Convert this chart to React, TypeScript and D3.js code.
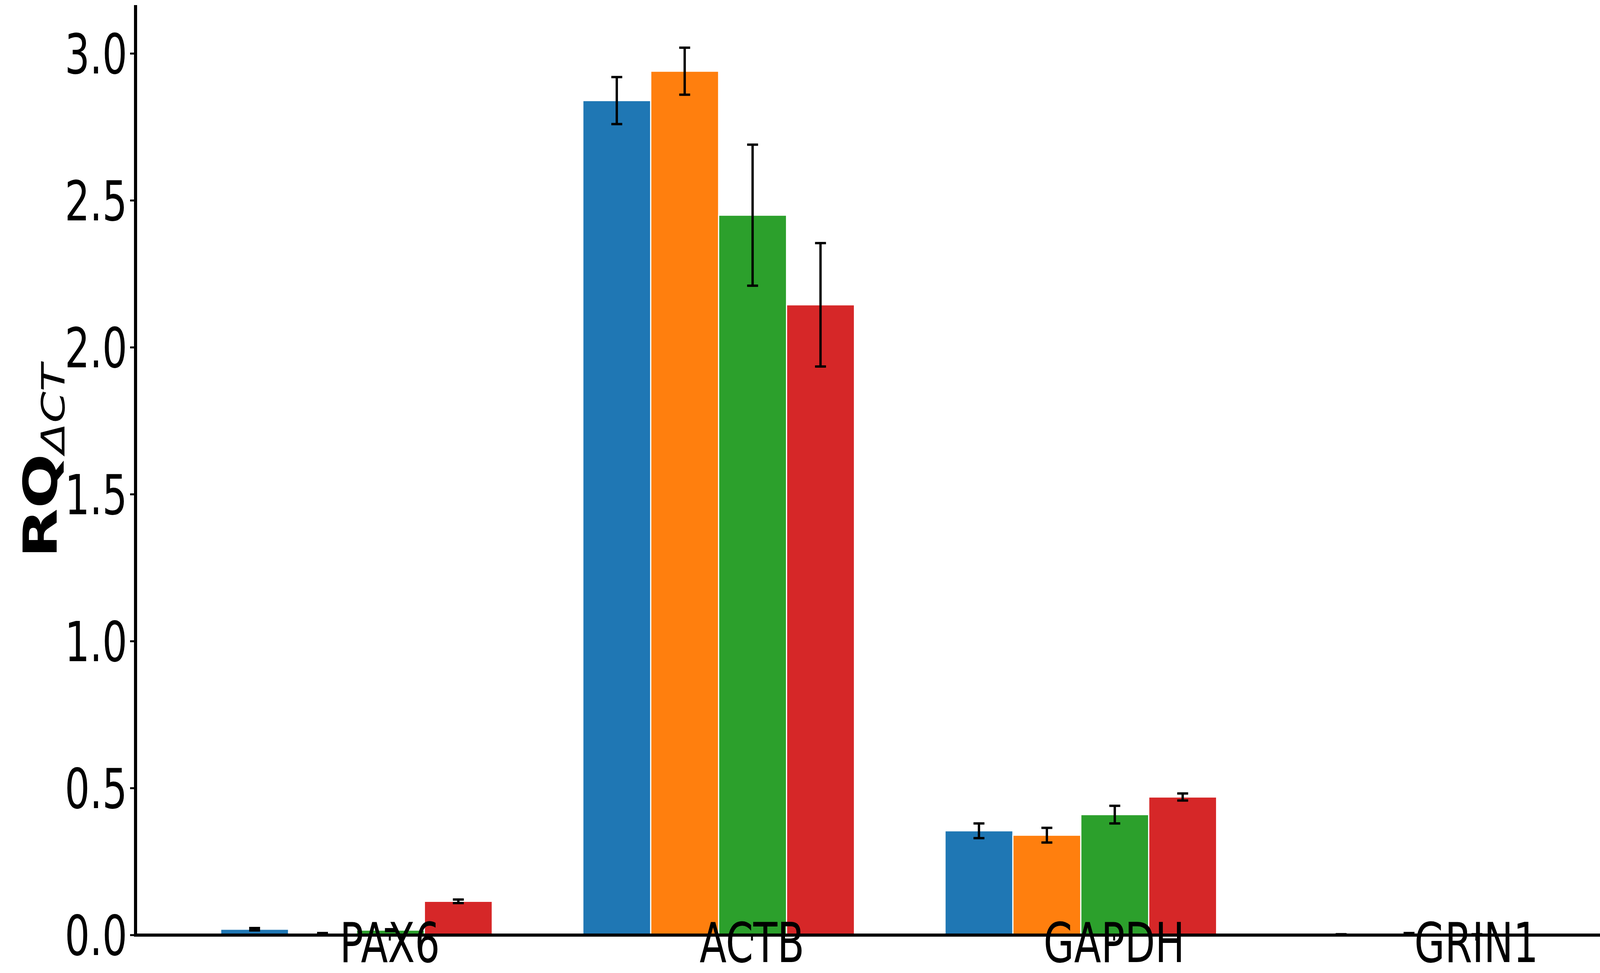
import * as React from 'react';
import * as d3 from 'd3';

const genes = ['PAX6', 'ACTB', 'GAPDH', 'GRIN1', 'CAMK2A'];
const series = ['AiW002-2-D0', 'AiW002-2-D7', 'KYOU-D7', 'KYOU-D0'];
const colors = ['#1f77b4', '#ff7f0e', '#2ca02c', '#d62728'];
// values[series][gene]
const values = [
  [0.02, 2.84, 0.355, 0.001, 0.01],
  [0.003, 2.94, 0.34, 0.004, 0.015],
  [0.017, 2.45, 0.41, 0.001, 0.009],
  [0.115, 2.145, 0.47, 0.0, 0.001],
];
const errors = [
  [0.004, 0.08, 0.025, 0.002, 0.003],
  [0.004, 0.08, 0.025, 0.003, 0.003],
  [0.003, 0.24, 0.03, 0.002, 0.003],
  [0.006, 0.21, 0.012, 0.0, 0.001],
];
const yTicks = [0, 0.5, 1.0, 1.5, 2.0, 2.5, 3.0];

const W = 6390;
const H = 2490;
const SX = 0.72; // the picture's text is narrow horizontally

const App = () => {
  const ref = React.useRef<SVGSVGElement | null>(null);

  React.useEffect(() => {
    document.body.style.margin = '0';
    const svg = d3.select(ref.current);
    svg.selectAll('*').remove();
    const font = 'DejaVu Sans, sans-serif';

    const label = (x, y, txt, anchor, size = 140) =>
      svg.append('text')
        .attr('transform', `translate(${x},${y}) scale(${SX},1)`)
        .attr('text-anchor', anchor)
        .style('font-family', font).style('font-size', `${size}px`)
        .attr('fill', 'black').text(txt);

    const left = 347, right = 5184, top = 13, bottom = 2393;
    const x = d3.scaleLinear().domain([-0.702, 4.515]).range([left, right]);
    const y = d3.scaleLinear().domain([0, 3.165]).range([bottom, top]);
    const bw = 0.1875;
    const off = -0.467;

    const g = svg.append('g');
    series.forEach((s, si) => {
      genes.forEach((gene, gi) => {
        const x0 = x(gi + off + si * bw);
        const x1 = x(gi + off + (si + 1) * bw);
        const v = values[si][gi];
        g.append('rect')
          .attr('x', x0).attr('width', x1 - x0)
          .attr('y', y(v)).attr('height', bottom - y(v))
          .attr('fill', colors[si]).attr('stroke', 'white').attr('stroke-width', 3);
        const e = errors[si][gi];
        const cx = (x0 + x1) / 2;
        if (e > 0) {
          g.append('line').attr('x1', cx).attr('x2', cx)
            .attr('y1', y(v - e)).attr('y2', y(v + e))
            .attr('stroke', 'black').attr('stroke-width', 6);
          [v - e, v + e].forEach((t) => {
            g.append('line').attr('x1', cx - 14).attr('x2', cx + 14)
              .attr('y1', y(t)).attr('y2', y(t))
              .attr('stroke', 'black').attr('stroke-width', 6);
          });
        }
      });
    });

    // ticks and labels
    yTicks.forEach((t) => {
      svg.append('line').attr('x1', left - 14).attr('x2', left).attr('y1', y(t)).attr('y2', y(t))
        .attr('stroke', 'black').attr('stroke-width', 5);
      label(326, y(t) + 51, d3.format('.1f')(t), 'end');
    });
    genes.forEach((gene, i) => {
      svg.append('line').attr('x1', x(i)).attr('x2', x(i)).attr('y1', bottom).attr('y2', bottom + 14)
        .attr('stroke', 'black').attr('stroke-width', 5);
      label(x(i), 2462, gene, 'middle');
    });
    svg.append('line').attr('x1', left).attr('x2', left).attr('y1', top).attr('y2', bottom + 4)
      .attr('stroke', 'black').attr('stroke-width', 8);
    svg.append('line').attr('x1', left - 4).attr('x2', right).attr('y1', bottom).attr('y2', bottom)
      .attr('stroke', 'black').attr('stroke-width', 8);

    // y label
    const lab = svg.append('text')
      .attr('transform', `translate(145,${1180}) scale(${SX},1) rotate(-90)`)
      .attr('text-anchor', 'middle')
      .style('font-family', font).style('font-size', '165px');
    lab.append('tspan').attr('font-weight', 'bold').text('RQ');
    lab.append('tspan').attr('font-style', 'italic').style('font-size', '115px').attr('dy', 28).text('ΔCT');

    // legend
    const lg = svg.append('g');
    lg.append('rect').attr('x', 5245).attr('y', 41).attr('width', 1132).attr('height', 705)
      .attr('rx', 16).attr('fill', 'white').attr('stroke', '#d0d0d0').attr('stroke-width', 4);
    series.forEach((s, i) => {
      const cy = 155 + i * 162;
      lg.append('rect').attr('x', 5290).attr('y', cy - 40).attr('width', 220).attr('height', 80).attr('fill', colors[i]);
      label(5570, cy + 51, s, 'start');
    });
  }, []);

  return <svg ref={ref} width={W} height={H} style={{ display: 'block', background: 'white' }} />;
};

export default App;
